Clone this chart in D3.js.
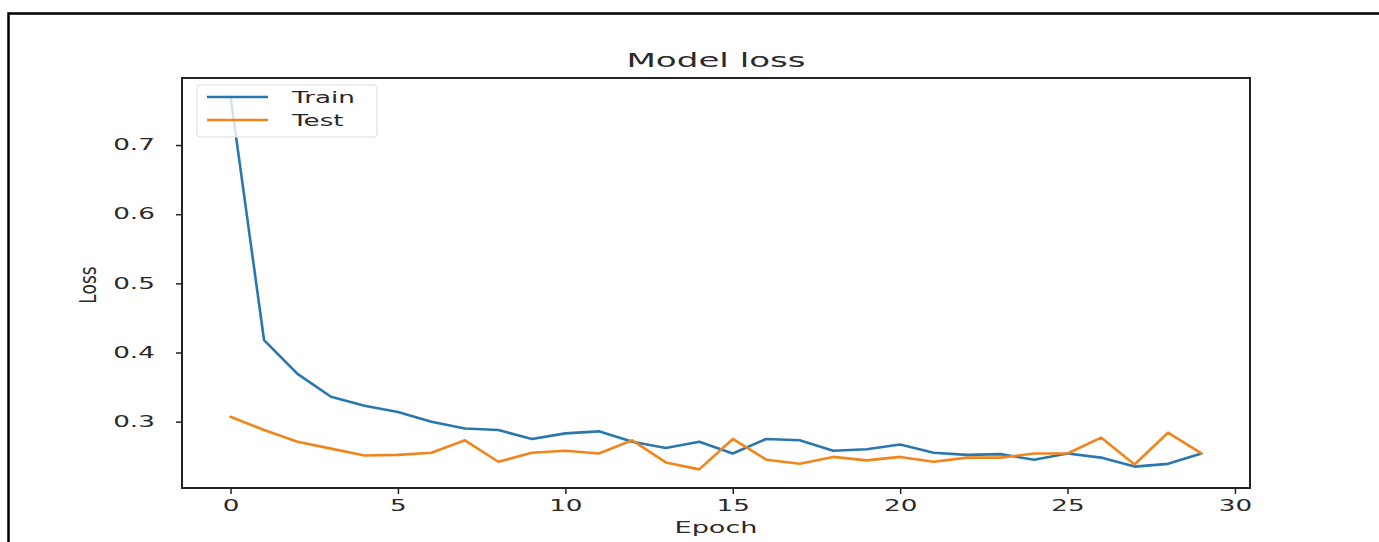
<!DOCTYPE html>
<html>
<head>
<meta charset="utf-8">
<script src="https://cdn.jsdelivr.net/npm/d3@7"></script>
<style>
  body { margin: 0; background: #fff; }
  svg { display: block; }
  text { font-family: "DejaVu Sans", sans-serif; fill: #2a2a2a; }
</style>
</head>
<body>
<div id="chart"></div>
<script>
// values
var epochs = d3.range(0, 30);
var trainLoss = [0.770, 0.418, 0.369, 0.336, 0.323, 0.314, 0.300, 0.290, 0.288, 0.275,
                 0.283, 0.286, 0.271, 0.262, 0.271, 0.254, 0.275, 0.273, 0.258, 0.260,
                 0.267, 0.255, 0.252, 0.253, 0.245, 0.254, 0.248, 0.235, 0.239, 0.254];
var testLoss = [0.307, 0.288, 0.271, 0.261, 0.251, 0.252, 0.255, 0.273, 0.242, 0.255,
                0.258, 0.254, 0.273, 0.241, 0.231, 0.275, 0.245, 0.239, 0.249, 0.244,
                0.249, 0.242, 0.248, 0.248, 0.254, 0.254, 0.277, 0.238, 0.284, 0.254];
var xTicks = [0, 5, 10, 15, 20, 25, 30];
var yTicks = [0.3, 0.4, 0.5, 0.6, 0.7];
var seriesNames = ["Train", "Test"];

var svgWidth = 1379;
var svgHeight = 542;
var sx = 1.75; // the picture is stretched sideways, text too

var margin = { top: 78, right: 129, bottom: 54, left: 182 };
var width = svgWidth - margin.left - margin.right;
var height = svgHeight - margin.top - margin.bottom;

var svg = d3.select("#chart")
  .append("svg")
  .attr("width", svgWidth)
  .attr("height", svgHeight);

// outer frame
svg.append("rect")
  .attr("x", 8.5)
  .attr("y", 13.5)
  .attr("width", svgWidth + 20)
  .attr("height", svgHeight + 20)
  .attr("fill", "none")
  .attr("stroke", "#000")
  .attr("stroke-width", 2.5);

var chartGroup = svg.append("g")
  .attr("transform", `translate(${margin.left}, ${margin.top})`);

// matplotlib style 5% margins
var allY = trainLoss.concat(testLoss);
var yMin = d3.min(allY), yMax = d3.max(allY);
var yPad = (yMax - yMin) * 0.05;
var xPad = (d3.max(epochs) - d3.min(epochs)) * 0.05;

var xLinearScale = d3.scaleLinear()
  .domain([d3.min(epochs) - xPad, d3.max(epochs) + xPad])
  .range([0, width]);

var yLinearScale = d3.scaleLinear()
  .domain([yMin - yPad, yMax + yPad])
  .range([height, 0]);

var bottomAxis = d3.axisBottom(xLinearScale)
  .tickValues(xTicks)
  .tickSize(6)
  .tickPadding(6);

var leftAxis = d3.axisLeft(yLinearScale)
  .tickValues(yTicks)
  .tickFormat(d3.format(".1f"))
  .tickSize(6)
  .tickPadding(9);

var xAxis = chartGroup.append("g")
  .attr("transform", `translate(0, ${height})`)
  .call(bottomAxis);

var yAxis = chartGroup.append("g")
  .call(leftAxis);

[xAxis, yAxis].forEach(function(ax) {
  ax.select(".domain").remove();
  ax.selectAll(".tick line").attr("stroke", "#222").attr("stroke-width", 1.5);
  ax.selectAll(".tick text")
    .attr("font-size", 15)
    .attr("font-family", "DejaVu Sans")
    .attr("fill", "#2a2a2a")
    .attr("transform", `scale(${sx},1)`);
});
yAxis.selectAll(".tick text").attr("x", -15.5);

// lines
var lineFor = function(vals) {
  return d3.line()
    .x((d, i) => xLinearScale(epochs[i]))
    .y(d => yLinearScale(d))(vals);
};

var colors = ["#2a77ad", "#f0851c"];
[trainLoss, testLoss].forEach(function(vals, i) {
  chartGroup.append("path")
    .attr("d", lineFor(vals))
    .attr("fill", "none")
    .attr("stroke", colors[i])
    .attr("stroke-width", 2.6)
    .attr("stroke-linejoin", "round")
    .attr("stroke-linecap", "round");
});

// plot frame
chartGroup.append("rect")
  .attr("width", width)
  .attr("height", height)
  .attr("fill", "none")
  .attr("stroke", "#222")
  .attr("stroke-width", 2);

// legend
var legend = chartGroup.append("g")
  .attr("transform", "translate(15, 7)");

legend.append("rect")
  .attr("width", 180)
  .attr("height", 52)
  .attr("rx", 3)
  .attr("fill", "#fff")
  .attr("fill-opacity", 0.8)
  .attr("stroke", "#ddd")
  .attr("stroke-width", 1);

seriesNames.forEach(function(name, i) {
  var ly = 12 + i * 23;
  legend.append("line")
    .attr("x1", 10).attr("x2", 71)
    .attr("y1", ly).attr("y2", ly)
    .attr("stroke", colors[i])
    .attr("stroke-width", 2.6);
  legend.append("text")
    .attr("transform", `translate(95, ${ly + 5.5}) scale(${sx},1)`)
    .attr("font-size", 15)
    .text(name);
});

// title and axis labels
svg.append("text")
  .attr("transform", `translate(${margin.left + width / 2}, 67) scale(${sx},1)`)
  .attr("text-anchor", "middle")
  .attr("font-size", 19.5)
  .text("Model loss");

svg.append("text")
  .attr("transform", `translate(${margin.left + width / 2}, 533) scale(${sx},1)`)
  .attr("text-anchor", "middle")
  .attr("font-size", 15.5)
  .text("Epoch");

svg.append("text")
  .attr("transform", `translate(96, 285) scale(1.3,1) rotate(-90)`)
  .attr("text-anchor", "middle")
  .attr("font-size", 17)
  .attr("font-family", "Liberation Sans Narrow, DejaVu Sans Condensed, sans-serif")
  .text("Loss");
</script>
</body>
</html>
